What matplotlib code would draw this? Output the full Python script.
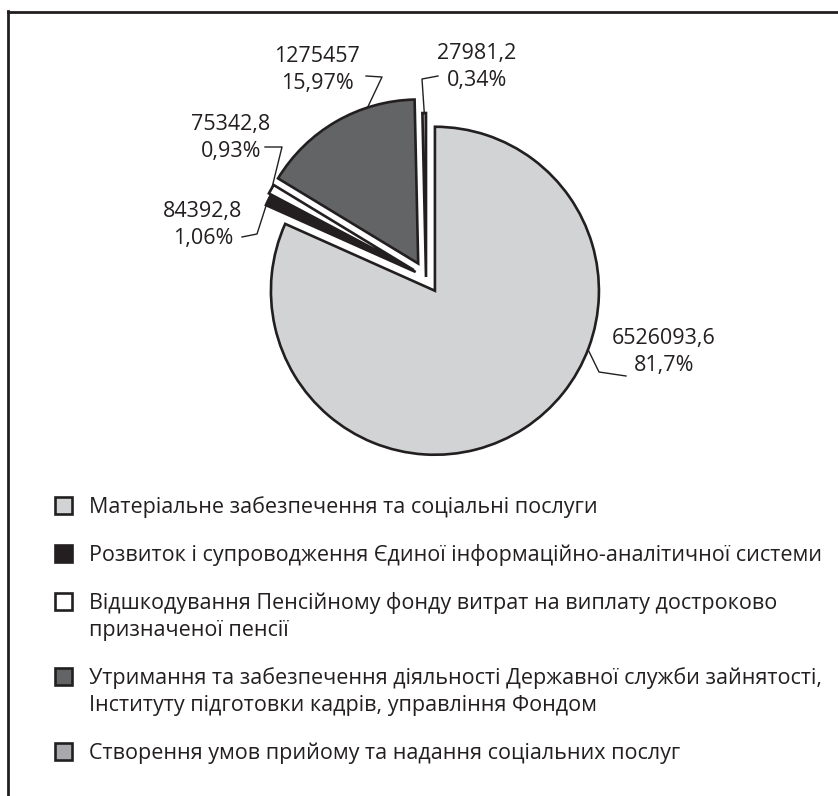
import matplotlib
matplotlib.use("Agg")
import matplotlib.pyplot as plt
import numpy as np
from matplotlib.patches import Rectangle
from matplotlib.lines import Line2D

plt.rcParams['font.family'] = ['Open Sans', 'DejaVu Sans']

categories = [
    "Матеріальне забезпечення та соціальні послуги",
    "Розвиток і супроводження Єдиної інформаційно-аналітичної системи",
    "Відшкодування Пенсійному фонду витрат на виплату достроково\nпризначеної пенсії",
    "Утримання та забезпечення діяльності Державної служби зайнятості,\nІнституту підготовки кадрів, управління Фондом",
    "Створення умов прийому та надання соціальних послуг",
]
values = [6526093.6, 84392.8, 75342.8, 1275457, 27981.2]
value_labels = ["6526093,6", "84392,8", "75342,8", "1275457", "27981,2"]
percent_labels = ["81,7%", "1,06%", "0,93%", "15,97%", "0,34%"]
colors = ['#d1d3d4', '#231f20', '#ffffff', '#636466', '#a7a9ac']
explode = [0.10, 0.07, 0.085, 0.095, 0.0]

W, H = 838, 796
EDGE = '#231f20'
fig = plt.figure(figsize=(W / 100, H / 100), dpi=100)

# pie centre / radius in pixels
cx, cy, R = 426, 277, 164
K = 1.5
ax = fig.add_axes([(cx - K * R) / W, (H - cy - K * R) / H, 2 * K * R / W, 2 * K * R / H])
wedges, _ = ax.pie(values, colors=colors, explode=explode, startangle=90,
                   counterclock=False,
                   wedgeprops=dict(edgecolor=EDGE, linewidth=1.9, joinstyle='miter'))
ax.set_xlim(-K, K)
ax.set_ylim(-K, K)
ax.axis('off')


def px(x, y):
    return (x - cx) / R, (cy - y) / R


# label layout: anchor angle on the wedge arc, bend point, line end, text centre (pixels)
label_layout = [
    (-21, (599, 372), (626, 376), (664, 352)),
    (155, (257, 234), (242, 237), (203, 225)),
    (150, (282, 147), (265, 147), (231, 138)),
    (108, (382, 77), (366, 76), (317, 70)),
    (90.6, (422, 79), (438, 76), (477, 67)),
]

for w, vl, pl, (ang, bend, end, tpos) in zip(wedges, value_labels, percent_labels, label_layout):
    a = np.deg2rad(ang)
    x0 = w.center[0] + w.r * np.cos(a)
    y0 = w.center[1] + w.r * np.sin(a)
    xb, yb = px(*bend)
    xe, ye = px(*end)
    ax.plot([x0, xb, xe], [y0, yb, ye], color=EDGE, lw=1.0, clip_on=False)
    tx, ty = px(*tpos)
    ax.text(tx, ty, vl + "\n" + pl, ha='center', va='center', fontsize=15.5,
            linespacing=1.35, color=EDGE)

# frame
fig.add_artist(Line2D([7.5 / W, 1], [(H - 12) / H] * 2, color=EDGE, lw=2))
fig.add_artist(Line2D([8 / W] * 2, [0, (H - 11) / H], color=EDGE, lw=2))

# legend
y = 505
for lab, col in zip(categories, colors):
    fig.add_artist(Rectangle(((63 - 8.5) / W, (H - y - 8.5) / H), 17 / W, 17 / H,
                             facecolor=col, edgecolor=EDGE, lw=1.9))
    lines = lab.split("\n")
    for i, line in enumerate(lines):
        fig.text(89 / W, (H - y) / H, line, ha='left', va='center_baseline',
                 fontsize=15.5, color=EDGE)
        if i < len(lines) - 1:
            y += 27
    y += 48

fig.savefig("out.png", dpi=100)
